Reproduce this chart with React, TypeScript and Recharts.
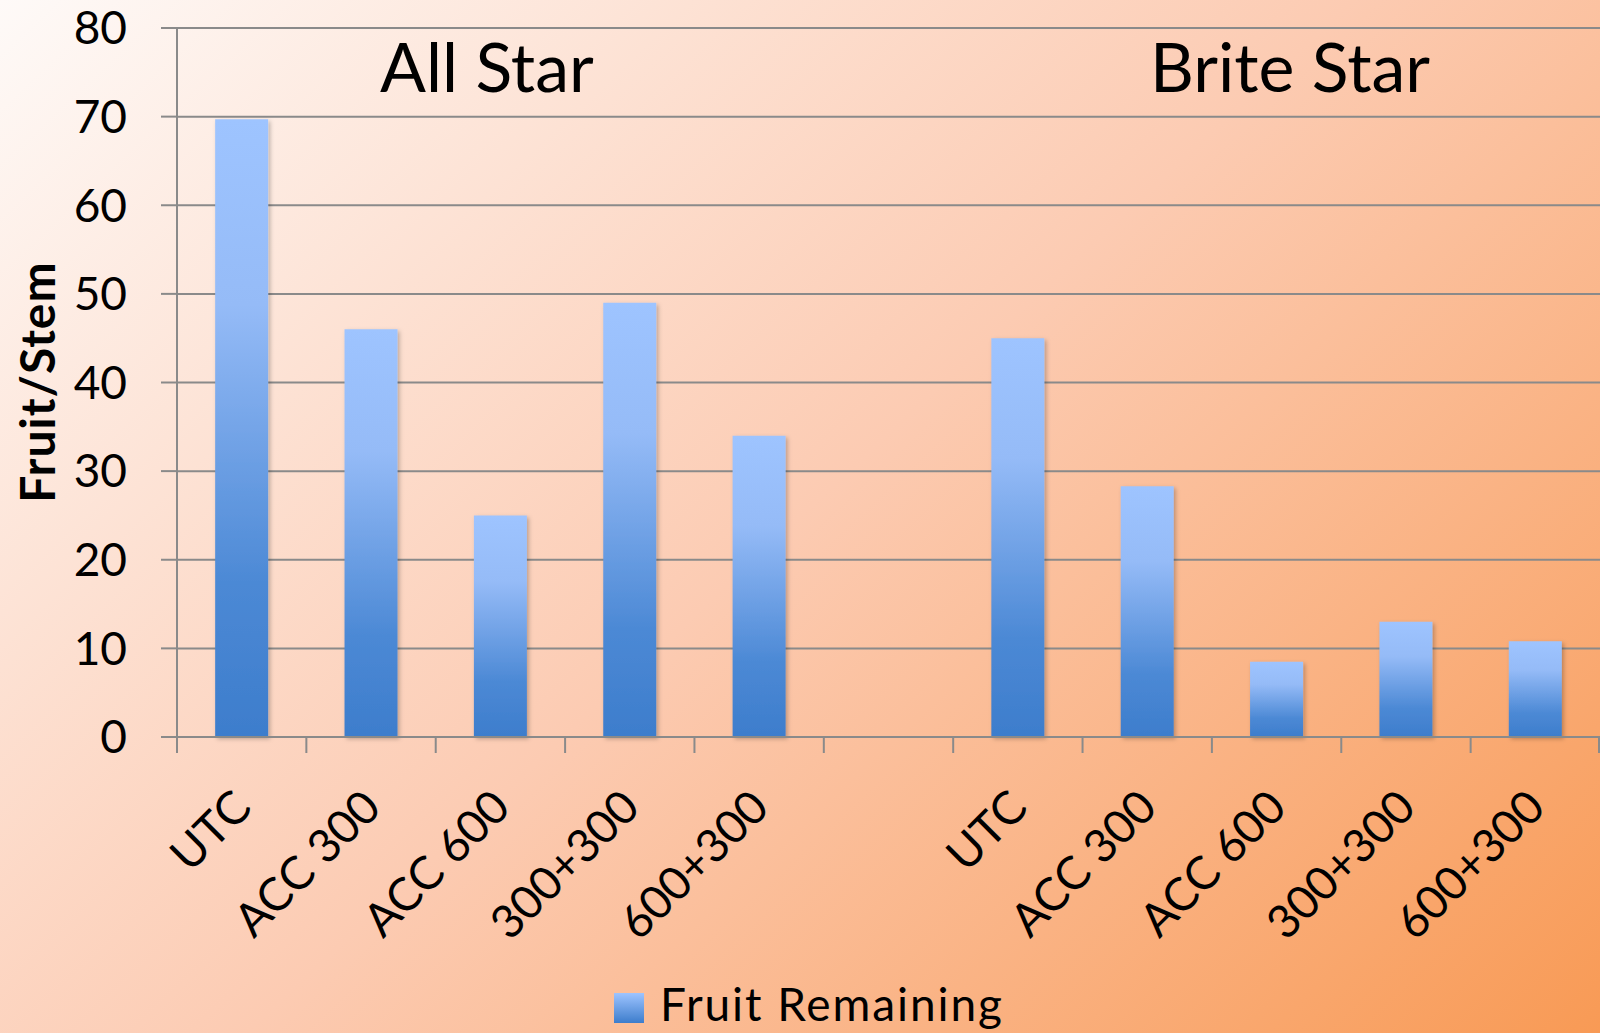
import { BarChart, Bar, XAxis, YAxis, CartesianGrid, Legend, Customized } from 'recharts'

// bar labels, same five treatments for each variety
const treatments = ['UTC', 'ACC 300', 'ACC 600', '300+300', '600+300']
const allStar = [69.7, 46, 25, 49, 34]
const briteStar = [45, 28.3, 8.5, 13, 10.8]
const yTicks = [0, 10, 20, 30, 40, 50, 60, 70, 80]

const data = [
  ...treatments.map((t, i) => ({ key: `all-${i}`, label: t, value: allStar[i] })),
  { key: 'gap', label: '', value: null },
  ...treatments.map((t, i) => ({ key: `brite-${i}`, label: t, value: briteStar[i] }))
]

const W = 1600
const H = 1033
const AXIS_W = 177
const band = (W - AXIS_W) / data.length
const gridColor = '#8a8a8a'
const font = 'Lato, "Open Sans", sans-serif'

const CategoryTick = (props: any) => {
  const { x, y, payload, index } = props
  const item = data[index] || data.find(d => d.key === payload.value)
  const tx = x + 12
  const ty = y + 73
  return (
    <g>
      <line x1={x - band / 2} y1={y} x2={x - band / 2} y2={y + 16} stroke={gridColor} strokeWidth={2} />
      {index === data.length - 1 && (
        <line x1={x + band / 2 - 1} y1={y} x2={x + band / 2 - 1} y2={y + 16} stroke={gridColor} strokeWidth={2} />
      )}
      <text x={tx} y={ty} transform={`rotate(-45, ${tx}, ${ty})`} textAnchor="end" fontSize={46} fill="#000" fontFamily={font}>
        {item ? item.label : ''}
      </text>
    </g>
  )
}

const LegendContent = () => (
  <div style={{ position: 'relative', height: 50, width: W, fontFamily: font }}>
    <span style={{
      position: 'absolute', left: 614, top: 10, width: 30, height: 30,
      background: 'linear-gradient(#9ec4ff, #3d7dcc)'
    }} />
    <span style={{ position: 'absolute', left: 660, top: -2, fontSize: 46, lineHeight: '46px', letterSpacing: '1.9px', color: '#000', whiteSpace: 'nowrap' }}>
      Fruit Remaining
    </span>
  </div>
)

const Annotations = () => (
  <g fontFamily={font} fill="#000">
    <text x={380} y={92} fontSize={68}>All Star</text>
    <text x={1150} y={92} fontSize={68}>Brite Star</text>
    <text x={36} y={382} fontSize={48} fontWeight="bold" letterSpacing={1} textAnchor="middle" dominantBaseline="central"
      transform="rotate(-90, 36, 382)">Fruit/Stem</text>
  </g>
)

export default function App() {
  return (
    <div style={{
      position: 'fixed', left: 0, top: 0, width: W, height: H,
      background: 'linear-gradient(137deg, #fefaf8 0%, #fccbb2 50%, #f89a55 100%)',
      fontFamily: font
    }}>
      <BarChart width={W} height={H} data={data} margin={{ top: 28, right: 0, left: 0, bottom: 0 }} barCategoryGap="29.5%">
        <defs>
          <linearGradient id="barGrad" x1="0" y1="0" x2="0" y2="1">
            <stop offset="0%" stopColor="#9ec4ff" />
            <stop offset="30%" stopColor="#95bbf7" />
            <stop offset="75%" stopColor="#4c89d5" />
            <stop offset="100%" stopColor="#3d7dcc" />
          </linearGradient>
          <filter id="barShadow" x="-10%" y="-10%" width="130%" height="130%">
            <feDropShadow dx="2" dy="2" stdDeviation="2" floodColor="#000" floodOpacity="0.25" />
          </filter>
        </defs>
        <CartesianGrid vertical={false} stroke={gridColor} strokeWidth={2} />
        <XAxis
          dataKey="key"
          height={246}
          interval={0}
          tickSize={0}
          tickMargin={0}
          tickLine={false}
          axisLine={{ stroke: gridColor, strokeWidth: 2 }}
          tick={<CategoryTick />}
        />
        <YAxis
          width={AXIS_W}
          domain={[0, 80]}
          ticks={yTicks}
          interval={0}
          tickSize={16}
          tickMargin={34}
          axisLine={{ stroke: gridColor, strokeWidth: 2 }}
          tickLine={{ stroke: gridColor, strokeWidth: 2 }}
          tick={{ fill: '#000', fontSize: 46, fontFamily: font }}
        />
        <Legend verticalAlign="bottom" height={50} content={<LegendContent />} />
        <Bar dataKey="value" name="Fruit Remaining" fill="url(#barGrad)" filter="url(#barShadow)" isAnimationActive={false} />
        <Customized component={Annotations} />
      </BarChart>
    </div>
  )
}
